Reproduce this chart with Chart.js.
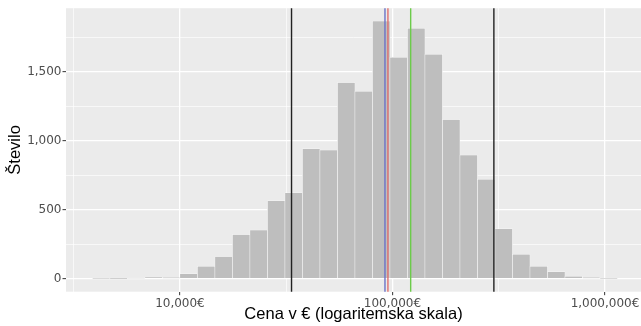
<!DOCTYPE html>
<html>
<head>
<meta charset="utf-8">
<script src="https://cdn.jsdelivr.net/npm/chart.js@4.4.1/dist/chart.umd.min.js"></script>
<style>
  html, body { margin: 0; padding: 0; background: #fff; }
  #wrap { width: 641px; height: 326px; }
</style>
</head>
<body>
<div id="wrap"><canvas id="hist"></canvas></div>
<script>
// histogram bins (centre price in €, log-spaced) and counts
const binCenters = [4260, 5150, 6225, 7524, 9094, 10992, 13287, 16065, 19418, 23472,
  28376, 34301, 41449, 50119, 60588, 73226, 88510, 107000, 129330, 156340,
  188980, 228450, 276130, 333790, 403490, 487780, 589560, 712620, 861420, 1041300];
const counts = [2, 1, 4, 13, 9, 36, 91, 161, 320, 353,
  565, 623, 942, 933, 1423, 1358, 1868, 1606, 1815, 1627,
  1154, 897, 721, 363, 178, 91, 50, 18, 10, 2];

// axis ticks (empty label = minor grid line)
const xTicks = [3162, 10000, 31623, 100000, 316228, 1000000];
const xLabels = ["", "10,000€", "", "100,000€", "", "1,000,000€"];
const yTicks = [0, 250, 500, 750, 1000, 1250, 1500, 1750];
const yLabels = ["0", "", "500", "", "1,000", "", "1,500", ""];

// vertical reference lines
const markers = [33500, 92200, 95200, 121800, 300000];
const markerColors = ["#222222", "#6A72C6", "#E0706E", "#6CCB4A", "#222222"];

const yMax = Math.max(...counts);

const panelBg = {
  id: "panelBg",
  beforeDraw(chart) {
    const { ctx, chartArea: a } = chart;
    ctx.save();
    ctx.fillStyle = "#EBEBEB";
    ctx.fillRect(a.left, a.top, a.right - a.left, a.bottom - a.top);
    ctx.restore();
  }
};

const vLines = {
  id: "vLines",
  afterDatasetsDraw(chart) {
    const { ctx, chartArea: a, scales } = chart;
    ctx.save();
    ctx.lineWidth = 1.4;
    markers.forEach((m, i) => {
      const x = scales.x.getPixelForValue(m);
      ctx.strokeStyle = markerColors[i];
      ctx.beginPath();
      ctx.moveTo(x, a.top);
      ctx.lineTo(x, a.bottom);
      ctx.stroke();
    });
    ctx.restore();
  }
};

const tickFont = { family: "DejaVu Sans", size: 12 };
const titleFont = { family: "Liberation Sans", size: 16.5 };

new Chart(document.getElementById("hist"), {
  type: "bar",
  data: {
    datasets: [{
      data: binCenters.map((c, i) => ({ x: c, y: counts[i] })),
      backgroundColor: "#BEBEBE",
      borderColor: "#FFFFFF",
      borderWidth: 0.5,
      borderSkipped: false,
      barPercentage: 1,
      categoryPercentage: 1
    }]
  },
  options: {
    responsive: true,
    maintainAspectRatio: false,
    animation: false,
    layout: { padding: { top: 6.7, right: 0, left: 0, bottom: 0 }, autoPadding: false },
    plugins: { legend: { display: false }, tooltip: { enabled: false } },
    scales: {
      x: {
        type: "logarithmic",
        min: 2910,
        max: 1477000,
        offset: false,
        afterBuildTicks: s => { s.ticks = xTicks.map(v => ({ value: v })); },
        afterFit: s => { s.height = 34.3; },
        border: { display: false },
        grid: {
          offset: false,
          color: "#FFFFFF",
          lineWidth: c => (xLabels[c.index] ? 1.3 : 0.65),
          tickColor: c => (xLabels[c.index] ? "#333333" : "rgba(0,0,0,0)"),
          tickLength: 3.5,
          tickWidth: 1
        },
        ticks: {
          autoSkip: false,
          maxRotation: 0,
          padding: 1,
          color: "#4D4D4D",
          font: tickFont,
          callback: (v, i) => xLabels[i]
        },
        title: {
          display: true,
          text: "Cena v € (logaritemska skala)",
          color: "#000000",
          font: titleFont,
          padding: { top: 0, bottom: 1.3 }
        }
      },
      y: {
        min: -0.05 * yMax,
        max: 1.05 * yMax,
        afterBuildTicks: s => { s.ticks = yTicks.map(v => ({ value: v })); },
        afterFit: s => { s.width = 66; },
        border: { display: false },
        grid: {
          color: "#FFFFFF",
          lineWidth: c => (yLabels[c.index] ? 1.3 : 0.65),
          tickColor: c => (yLabels[c.index] ? "#333333" : "rgba(0,0,0,0)"),
          tickLength: 3.5,
          tickWidth: 1
        },
        ticks: {
          autoSkip: false,
          padding: 1,
          color: "#4D4D4D",
          font: tickFont,
          callback: (v, i) => yLabels[i]
        },
        title: {
          display: true,
          text: "Število",
          color: "#000000",
          font: titleFont,
          padding: { top: 5.4, bottom: 0 }
        }
      }
    }
  },
  plugins: [panelBg, vLines]
});
</script>
</body>
</html>
